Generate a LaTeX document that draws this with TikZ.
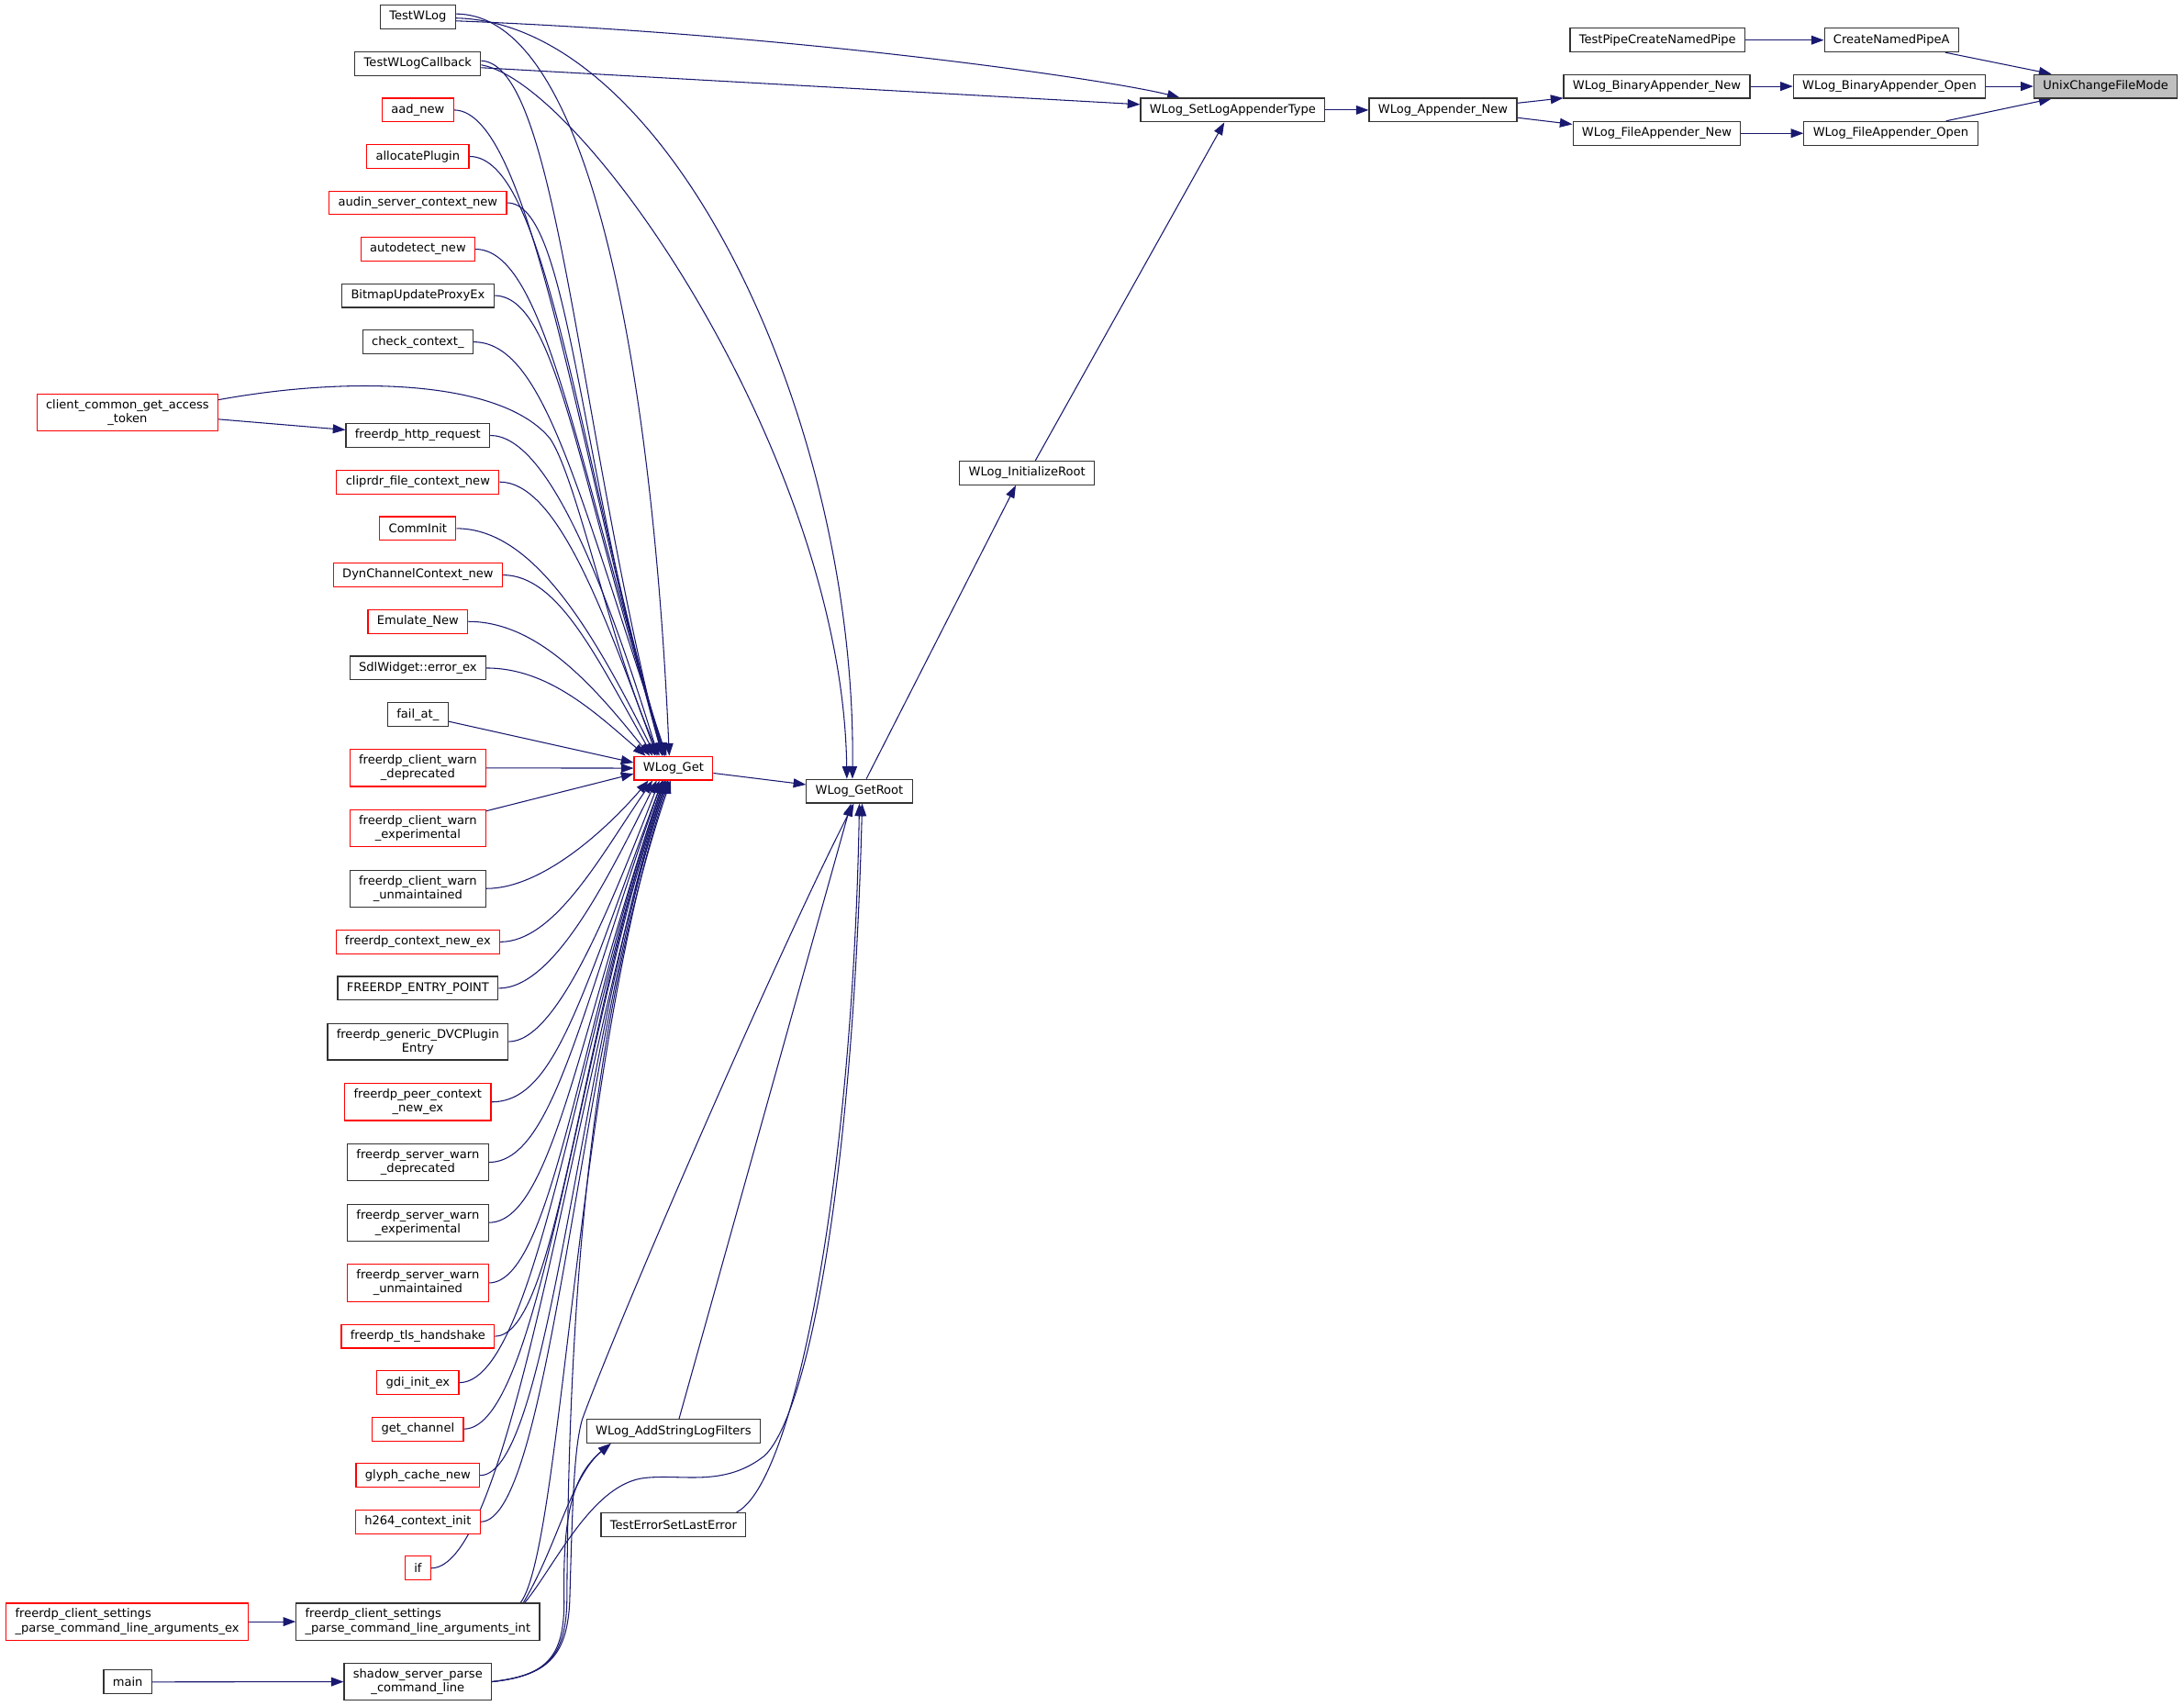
\documentclass[tikz,border=0pt]{standalone}
\usepackage{fontspec}
\setmainfont{DejaVu Sans}
\usetikzlibrary{arrows.meta,backgrounds}
\definecolor{edgeblue}{RGB}{25,25,112}
\begin{document}
\begin{tikzpicture}[x=1pt,y=-1pt,
  funcnode/.style={rectangle,draw=black!80,fill=white,line width=0.75pt,inner xsep=6.5pt,inner ysep=4pt,minimum height=17pt,font=\fontsize{8.6}{10}\selectfont},
      trunc/.style={draw=red},
      focus/.style={fill=black!25},
      twoline/.style={align=center},
      leftline/.style={align=left},
  call/.style={draw=edgeblue,line width=0.7pt,-{Triangle[length=9pt,width=6.5pt]}}]
  \useasboundingbox (0,0) rectangle (1568,1224.7);
  \path

(1511.7,62) node [funcnode,focus] (ucfm) {UnixChangeFileMode}
(1358,28.8) node [funcnode] (cnp) {CreateNamedPipeA}
(1190,28.8) node [funcnode] (tpcnp) {TestPipeCreateNamedPipe}
(1356.5,62) node [funcnode] (bao) {WLog\_BinaryAppender\_Open}
(1189.5,62) node [funcnode] (ban) {WLog\_BinaryAppender\_New}
(1357.5,95.7) node [funcnode] (fao) {WLog\_FileAppender\_Open}
(1189.5,95.7) node [funcnode] (fan) {WLog\_FileAppender\_New}
(1036,79) node [funcnode] (apn) {WLog\_Appender\_New}
(885,79) node [funcnode] (slat) {WLog\_SetLogAppenderType}
(737.3,339.6) node [funcnode] (iroot) {WLog\_InitializeRoot}
(617,568) node [funcnode] (groot) {WLog\_GetRoot}
(483.5,551.5) node [funcnode,trunc] (wget) {WLog\_Get}
(483.5,1027.5) node [funcnode] (addf) {WLog\_AddStringLogFilters}
(483.5,1094.5) node [funcnode] (tesle) {TestErrorSetLastError}

(300,12) node [funcnode] (twlog) {TestWLog}
(300,45.6) node [funcnode] (twcb) {TestWLogCallback}
(300,79) node [funcnode,trunc] (aad) {aad\_new}
(300,112.3) node [funcnode,trunc] (alloc) {allocatePlugin}
(300,145.6) node [funcnode,trunc] (audin) {audin\_server\_context\_new}
(300,178.9) node [funcnode,trunc] (autod) {autodetect\_new}
(300,212.2) node [funcnode] (bmp) {BitmapUpdateProxyEx}
(300,245.5) node [funcnode] (chkc) {check\_context\_}
(91.5,296) node [funcnode,trunc,twoline] (ccgat) {client\_common\_get\_access\\\_token}
(300,312.6) node [funcnode] (http) {freerdp\_http\_request}
(300,346) node [funcnode,trunc] (clip) {cliprdr\_file\_context\_new}
(300,379.4) node [funcnode,trunc] (comm) {CommInit}
(300,412.8) node [funcnode,trunc] (dyn) {DynChannelContext\_new}
(300,446.2) node [funcnode,trunc] (emu) {Emulate\_New}
(300,479.6) node [funcnode] (sdl) {SdlWidget::error\_ex}
(300,513) node [funcnode] (fail) {fail\_at\_}
(300,551.3) node [funcnode,trunc,twoline] (fcwd) {freerdp\_client\_warn\\\_deprecated}
(300,594.6) node [funcnode,trunc,twoline] (fcwe) {freerdp\_client\_warn\\\_experimental}
(300,637.9) node [funcnode,twoline] (fcwu) {freerdp\_client\_warn\\\_unmaintained}
(300,676.2) node [funcnode,trunc] (ctxn) {freerdp\_context\_new\_ex}
(300,709.5) node [funcnode] (entry) {FREERDP\_ENTRY\_POINT}
(300,747.8) node [funcnode,twoline] (dvc) {freerdp\_generic\_DVCPlugin\\Entry}
(300,791.1) node [funcnode,trunc,twoline] (peer) {freerdp\_peer\_context\\\_new\_ex}
(300,834.4) node [funcnode,twoline] (fswd) {freerdp\_server\_warn\\\_deprecated}
(300,877.7) node [funcnode,twoline] (fswe) {freerdp\_server\_warn\\\_experimental}
(300,921) node [funcnode,trunc,twoline] (fswu) {freerdp\_server\_warn\\\_unmaintained}
(300,959.3) node [funcnode,trunc] (tls) {freerdp\_tls\_handshake}
(300,992.6) node [funcnode,trunc] (gdi) {gdi\_init\_ex}
(300,1025.9) node [funcnode,trunc] (getch) {get\_channel}
(300,1059.2) node [funcnode,trunc] (glyph) {glyph\_cache\_new}
(300,1092.5) node [funcnode,trunc] (h264) {h264\_context\_init}
(300,1125.8) node [funcnode,trunc] (iff) {if}
(300,1164.2) node [funcnode,leftline] (fcsi) {freerdp\_client\_settings\\\_parse\_command\_line\_arguments\_int}
(91.3,1164.2) node [funcnode,trunc,leftline] (fcse) {freerdp\_client\_settings\\\_parse\_command\_line\_arguments\_ex}
(300,1207.3) node [funcnode,twoline] (shadow) {shadow\_server\_parse\\\_command\_line}
(91.7,1207.5) node [funcnode] (mainf) {main}
  ;

  \begin{scope}[on background layer]
  % right part
  \draw[call] (tpcnp) -- (cnp);
  \draw[call] ([xshift=-10pt]cnp.south east) -- ([xshift=13pt]ucfm.north west);
  \draw[call] (bao) -- (ucfm);
  \draw[call] ([xshift=-23pt]fao.north east) -- ([xshift=13pt]ucfm.south west);
  \draw[call] (ban) -- (bao);
  \draw[call] (fan) -- (fao);
  \draw[call] ([yshift=5pt]apn.east) -- ([yshift=0.5pt]ban.south west);
  \draw[call] ([yshift=-5.5pt]apn.east) -- ([yshift=-2.4pt]fan.north west);
  \draw[call] (slat) -- (apn);
  \draw[call] ([xshift=6pt]iroot.north) -- ([xshift=-6pt]slat.south);
  \draw[call] ([xshift=5pt]groot.north) -- ([xshift=-8pt]iroot.south);
  \draw[call] (wget) -- (groot);

  % tests
  \draw[call] ([yshift=-3pt]twlog.east) .. controls (580,25) and (800,58) .. ([xshift=-38pt]slat.north);
  \draw[call] ([yshift=-3pt]twcb.east) -- ([yshift=4pt]slat.west);
  \draw[call] ([yshift=-1pt]twlog.east) .. controls (480,16) and (615,300) .. ([xshift=-5pt]groot.north);
  \draw[call] ([yshift=-1pt]twcb.east) .. controls (420,60) and (605,330) .. ([xshift=-9pt]groot.north);
  \draw[call] ([yshift=2pt]twlog.east) .. controls (430,10) and (470,300) .. ([xshift=-3pt]wget.north);
  \draw[call] ([yshift=2pt]twcb.east) .. controls (400,46) and (414,300) .. ([xshift=-8pt]wget.north);

  % callers of WLog_Get above it
  \draw[call] (aad.east) .. controls +(55,0) and (414,320) .. ([xshift=-8pt]wget.north);
  \draw[call] (alloc.east) .. controls +(55,0) and (414,320) .. ([xshift=-7pt]wget.north);
  \draw[call] (audin.east) .. controls +(45,0) and (414,330) .. ([xshift=-7pt]wget.north);
  \draw[call] (autod.east) .. controls +(50,0) and (414,330) .. ([xshift=-6pt]wget.north);
  \draw[call] (bmp.east) .. controls +(45,0) and (414,340) .. ([xshift=-6pt]wget.north);
  \draw[call] (chkc.east) .. controls +(50,0) and (414,350) .. ([xshift=-5pt]wget.north);
  \draw[call] ([yshift=9pt]ccgat.east) .. controls (250,270) and (360,272) .. (395,315) .. controls (415,345) and (440,470) .. ([xshift=-10pt]wget.north);
  \draw[call] ([yshift=-5pt]ccgat.east) -- ([yshift=4pt]http.west);
  \draw[call] (http.east) .. controls +(40,0) and +(-40,-130) .. ([xshift=-11pt]wget.north);
  \draw[call] (clip.east) .. controls +(40,0) and +(-40,-110) .. ([xshift=-12pt]wget.north);
  \draw[call] (comm.east) .. controls +(55,0) and +(-45,-90) .. ([xshift=-13pt]wget.north);
  \draw[call] (dyn.east) .. controls +(40,0) and +(-40,-70) .. ([xshift=-15pt]wget.north);
  \draw[call] (emu.east) .. controls +(50,0) and +(-40,-50) .. ([xshift=-17pt]wget.north);
  \draw[call] (sdl.east) .. controls +(45,0) and +(-35,-30) .. ([xshift=-20pt]wget.north);
  \draw[call] (fail) -- ([yshift=4pt]wget.west);
  \draw[call] (fcwd) -- (wget);
  \draw[call] (fcwe) -- ([yshift=-4pt]wget.west);

  % callers of WLog_Get below it
  \draw[call] (fcwu.east) .. controls +(40,0) and +(-30,35) .. ([xshift=-18pt]wget.south);
  \draw[call] (ctxn.east) .. controls +(40,0) and +(-35,50) .. ([xshift=-15pt]wget.south);
  \draw[call] (entry.east) .. controls +(40,0) and +(-35,70) .. ([xshift=-12pt]wget.south);
  \draw[call] (dvc.east) .. controls +(35,0) and +(-35,90) .. ([xshift=-10pt]wget.south);
  \draw[call] (peer.east) .. controls +(45,0) and (416,720) .. ([xshift=-8pt]wget.south);
  \draw[call] (fswd.east) .. controls +(45,0) and (416,730) .. ([xshift=-8pt]wget.south);
  \draw[call] (fswe.east) .. controls +(45,0) and (416,740) .. ([xshift=-7pt]wget.south);
  \draw[call] (fswu.east) .. controls +(45,0) and (416,740) .. ([xshift=-7pt]wget.south);
  \draw[call] (tls.east) .. controls +(45,0) and (416,740) .. ([xshift=-6pt]wget.south);
  \draw[call] (gdi.east) .. controls +(55,0) and (416,740) .. ([xshift=-6pt]wget.south);
  \draw[call] (getch.east) .. controls +(55,0) and (416,740) .. ([xshift=-5pt]wget.south);
  \draw[call] (glyph.east) .. controls +(50,0) and (416,750) .. ([xshift=-5pt]wget.south);
  \draw[call] (h264.east) .. controls +(50,0) and (416,750) .. ([xshift=-4pt]wget.south);
  \draw[call] (iff.east) .. controls +(60,0) and (416,750) .. ([xshift=-4pt]wget.south);
  \draw[call] ([xshift=-14pt]fcsi.north east) .. controls +(30,-40) and (414,760) .. ([xshift=-3pt]wget.south);
  \draw[call] (shadow.east) .. controls (392,1203) and (406,1190) .. (407,1150) .. controls (408,1000) and (414,760) .. ([xshift=-2pt]wget.south);

  % bottom
  \draw[call] (fcse) -- (fcsi);
  \draw[call] (mainf) -- (shadow);
  \draw[call] ([xshift=-12pt]fcsi.north east) .. controls (400,1110) and (410,1060) .. ([xshift=-45pt]addf.south);
  \draw[call] (shadow.east) .. controls (392,1203) and (405,1190) .. (405,1150) .. controls (404,1090) and (410,1060) .. ([xshift=-45pt]addf.south);
  \draw[call] ([xshift=4pt]addf.north) -- ([xshift=-6pt]groot.south);
  \draw[call] ([xshift=-7pt]tesle.north east) .. controls (570,1065) and (612,850) .. (groot.south);
  \draw[call] ([xshift=-11pt]fcsi.north east) .. controls (398,1125) and (425,1065) .. (463,1061) .. controls (490,1058) and (520,1068) .. (549,1045) .. controls (580,1015) and (612,850) .. ([xshift=2pt]groot.south);
  \draw[call] (shadow.east) .. controls (392,1203) and (407,1190) .. (409,1150) .. controls (411,1080) and (412,1040) .. (418,1019) .. controls (445,945) and (560,680) .. ([xshift=-4pt]groot.south);
  \end{scope}
\end{tikzpicture}
\end{document}
